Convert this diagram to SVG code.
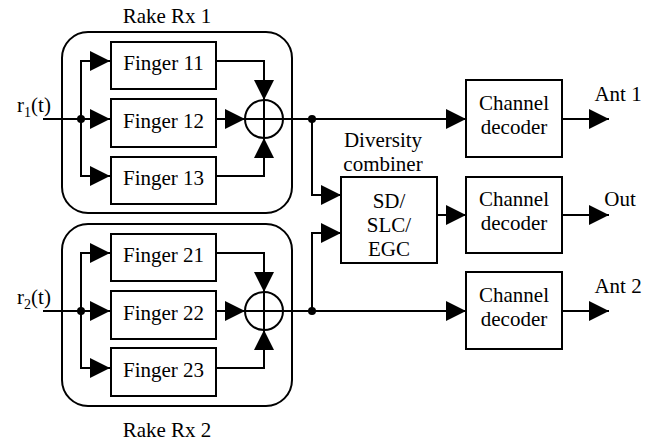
<svg xmlns="http://www.w3.org/2000/svg" width="656" height="445" viewBox="0 0 656 445">
<style>
text{fill:#000;text-anchor:middle;font-family:"Liberation Serif","Times New Roman",serif;font-size:21px}
.box{fill:#fff;stroke:#000;stroke-width:2}
.grp{fill:none;stroke:#000;stroke-width:2}
.ln{fill:none;stroke:#000;stroke-width:2}
.dot{fill:#000}
</style>
<defs>
<marker id="ah" markerWidth="20" markerHeight="20" refX="20" refY="10" orient="auto" markerUnits="userSpaceOnUse" viewBox="0 0 20 20">
<path d="M0,0 L20,10 L0,20 z" fill="#000"/>
</marker>
</defs>

<g id="rake1">
<rect class="grp" x="62" y="32" width="230" height="181" rx="26"/>
<text x="167" y="23">Rake Rx 1</text>
</g>
<g id="rake2">
<rect class="grp" x="62" y="224" width="230" height="182" rx="26"/>
<text x="167" y="437">Rake Rx 2</text>
</g>

<g id="finger11"><rect class="box" x="111" y="42" width="105" height="47"/><text x="163.5" y="70">Finger 11</text></g>
<g id="finger12"><rect class="box" x="111" y="99" width="105" height="48"/><text x="163.5" y="128">Finger 12</text></g>
<g id="finger13"><rect class="box" x="111" y="157" width="105" height="47"/><text x="163.5" y="185">Finger 13</text></g>
<g id="finger21"><rect class="box" x="111" y="234" width="105" height="47"/><text x="163.5" y="262">Finger 21</text></g>
<g id="finger22"><rect class="box" x="111" y="291" width="105" height="48"/><text x="163.5" y="320">Finger 22</text></g>
<g id="finger23"><rect class="box" x="111" y="348" width="105" height="48"/><text x="163.5" y="377">Finger 23</text></g>

<g id="sum1"><circle class="ln" cx="264" cy="119" r="19"/><path class="ln" d="M245,119 H283 M264,100 V138"/></g>
<g id="sum2"><circle class="ln" cx="264" cy="311" r="19"/><path class="ln" d="M245,311 H283 M264,292 V330"/></g>

<g id="combiner">
<rect class="box" x="341" y="177" width="96" height="86"/>
<text x="383" y="147">Diversity</text>
<text x="383" y="171">combiner</text>
<text x="389" y="208">SD/</text>
<text x="389" y="232">SLC/</text>
<text x="389" y="256">EGC</text>
</g>
<g id="dec1"><rect class="box" x="466" y="80" width="96" height="77"/><text x="514" y="110">Channel</text><text x="514" y="134">decoder</text></g>
<g id="dec2"><rect class="box" x="466" y="177" width="96" height="76"/><text x="514" y="206">Channel</text><text x="514" y="230">decoder</text></g>
<g id="dec3"><rect class="box" x="466" y="272" width="96" height="77"/><text x="514" y="302">Channel</text><text x="514" y="326">decoder</text></g>

<g id="labels">
<text x="34" y="112">r<tspan font-size="14" dy="5">1</tspan><tspan dy="-5">(t)</tspan></text>
<text x="34" y="304">r<tspan font-size="14" dy="5">2</tspan><tspan dy="-5">(t)</tspan></text>
<text x="618" y="101">Ant 1</text>
<text x="620" y="206">Out</text>
<text x="618" y="293">Ant 2</text>
</g>

<g id="connectors">
<path class="ln" d="M43,119 H110" marker-end="url(#ah)"/>
<path class="ln" d="M81,119 V61 H110" marker-end="url(#ah)"/>
<path class="ln" d="M81,119 V176 H110" marker-end="url(#ah)"/>
<path class="ln" d="M216,61 H264 V100" marker-end="url(#ah)"/>
<path class="ln" d="M216,176 H264 V138" marker-end="url(#ah)"/>
<path class="ln" d="M216,119 H245" marker-end="url(#ah)"/>
<circle class="dot" cx="81" cy="119" r="4"/>
<path class="ln" d="M43,311 H110" marker-end="url(#ah)"/>
<path class="ln" d="M81,311 V253 H110" marker-end="url(#ah)"/>
<path class="ln" d="M81,311 V368 H110" marker-end="url(#ah)"/>
<path class="ln" d="M216,253 H264 V292" marker-end="url(#ah)"/>
<path class="ln" d="M216,368 H264 V330" marker-end="url(#ah)"/>
<path class="ln" d="M216,311 H245" marker-end="url(#ah)"/>
<circle class="dot" cx="81" cy="311" r="4"/>
<path class="ln" d="M283,119 H466" marker-end="url(#ah)"/>
<path class="ln" d="M312,119 V195 H341" marker-end="url(#ah)"/>
<circle class="dot" cx="312" cy="119" r="4"/>
<path class="ln" d="M283,311 H466" marker-end="url(#ah)"/>
<path class="ln" d="M312,311 V233 H341" marker-end="url(#ah)"/>
<circle class="dot" cx="312" cy="311" r="4"/>
<path class="ln" d="M437,215 H466" marker-end="url(#ah)"/>
<path class="ln" d="M562,119 H609" marker-end="url(#ah)"/>
<path class="ln" d="M562,215 H609" marker-end="url(#ah)"/>
<path class="ln" d="M562,311 H609" marker-end="url(#ah)"/>
</g>
</svg>
